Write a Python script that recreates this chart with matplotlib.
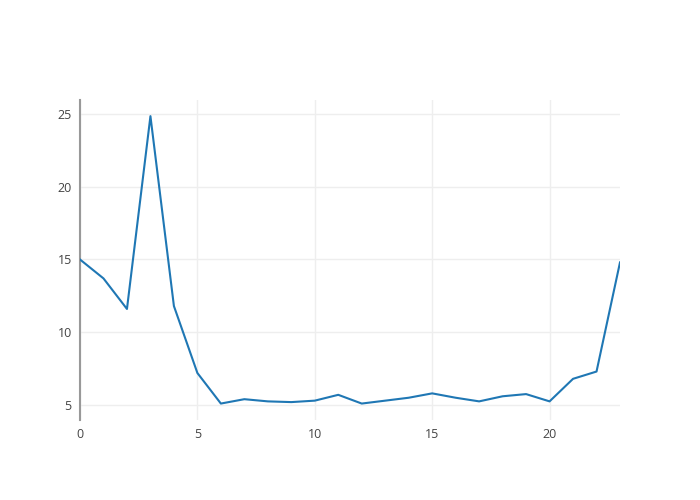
import numpy as np
import matplotlib.pyplot as plt

plt.rcParams['font.family'] = ['Open Sans', 'DejaVu Sans']

hours = np.arange(24)
values = [15.0, 13.7, 11.6, 24.85, 11.8, 7.2, 5.1, 5.4, 5.25, 5.2,
          5.3, 5.7, 5.1, 5.3, 5.5, 5.8, 5.5, 5.25, 5.6, 5.75,
          5.25, 6.8, 7.3, 14.8]
x_ticks = [0, 5, 10, 15, 20]
y_ticks = [5, 10, 15, 20, 25]

fig = plt.figure(figsize=(7, 5), dpi=100)
ax = fig.add_axes([80/700, 80/500, 540/700, 320/500])

ax.plot(hours, values, color='#1f77b4', linewidth=1.5, zorder=3)

ax.set_xlim(0, 23)
ax.set_ylim(3.97, 25.96)
ax.set_xticks(x_ticks)
ax.set_yticks(y_ticks)
ax.grid(True, color='#eeeeee', linewidth=1)
ax.set_axisbelow(True)

for side in ['top', 'right', 'bottom']:
    ax.spines[side].set_visible(False)
ax.spines['left'].set_color('#999999')
ax.spines['left'].set_linewidth(1.5)

ax.tick_params(axis='both', length=0, labelsize=9, labelcolor='#444444', pad=6)

fig.savefig('out.png', dpi=100)
